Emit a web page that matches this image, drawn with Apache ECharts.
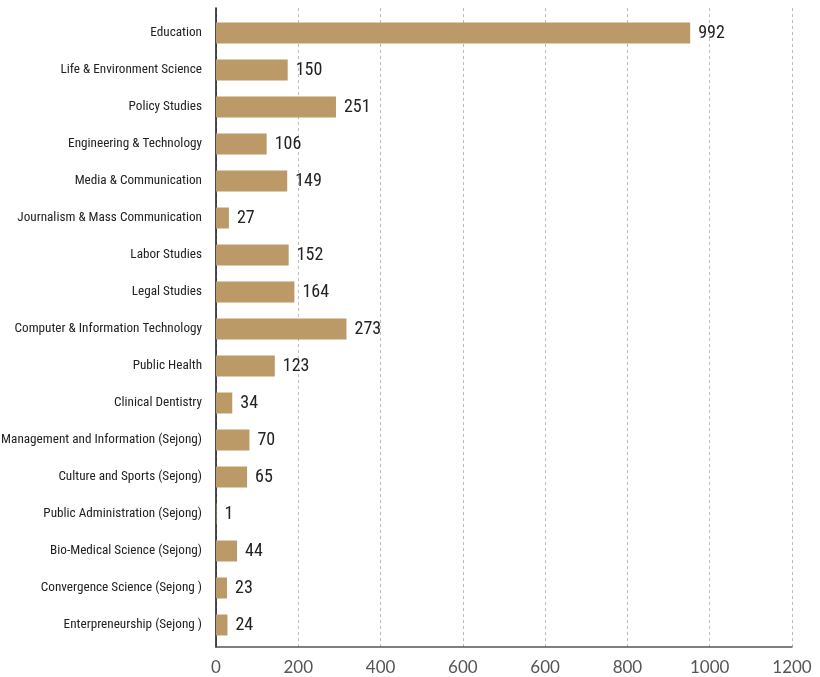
<!DOCTYPE html>
<html>
<head>
<meta charset="utf-8">
<script src="https://cdn.jsdelivr.net/npm/echarts@6/dist/echarts.min.js"></script>
<style>
html,body{margin:0;padding:0;background:#fff;}
#chart{width:820px;height:677px;}
</style>
</head>
<body>
<div id="chart"></div>
<script>
const categories = [
  "Education",
  "Life & Environment Science",
  "Policy Studies",
  "Engineering & Technology",
  "Media & Communication",
  "Journalism & Mass Communication",
  "Labor Studies",
  "Legal Studies",
  "Computer & Information Technology",
  "Public Health",
  "Clinical Dentistry",
  "Management and Information (Sejong)",
  "Culture and Sports (Sejong)",
  "Public Administration (Sejong)",
  "Bio-Medical Science (Sejong)",
  "Convergence Science (Sejong )",
  "Enterpreneurship (Sejong )"
];
const values = [992, 150, 251, 106, 149, 27, 152, 164, 273, 123, 34, 70, 65, 1, 44, 23, 24];
const tickLabels = ["0", "200", "400", "600", "600", "800", "1000", "1200"];

const chart = echarts.init(document.getElementById('chart'), null, {renderer: 'canvas'});
const narrow = "'Roboto Condensed', 'DejaVu Sans Condensed', sans-serif";
chart.setOption({
  animation: false,
  backgroundColor: '#ffffff',
  grid: [
    {left: 216, top: 8, width: 576, height: 639, containLabel: false, outerBoundsMode: 'none'},
    {left: 216, top: 14.5, width: 576, height: 629, containLabel: false, outerBoundsMode: 'none'}
  ],
  xAxis: [
    {
      gridIndex: 0, type: 'value', min: 0, max: 1400, interval: 200,
      axisLine: {show: true, lineStyle: {color: '#555', width: 1.5}},
      axisTick: {show: false},
      axisLabel: {
        margin: 12, color: '#555', fontSize: 17, fontFamily: "Lato, 'Open Sans', sans-serif",
        formatter: function (v) { return tickLabels[Math.round(v / 200)] || ''; }
      },
      splitLine: {show: true, lineStyle: {color: '#bbb', type: [3, 3], width: 1}}
    },
    {
      gridIndex: 1, type: 'value', min: 0, max: 1205, show: false,
      splitLine: {show: false}
    }
  ],
  yAxis: [
    {
      gridIndex: 0, type: 'value', min: 0, max: 1,
      axisLine: {show: true, onZero: false, lineStyle: {color: '#111', width: 1.5}},
      axisTick: {show: false}, axisLabel: {show: false}, splitLine: {show: false}
    },
    {
      gridIndex: 1, type: 'category', data: categories, inverse: true,
      axisLine: {show: false}, axisTick: {show: false},
      axisLabel: {margin: 14, color: '#222', fontSize: 13.2, fontFamily: narrow}
    }
  ],
  series: [{
    type: 'bar', xAxisIndex: 1, yAxisIndex: 1,
    data: values, barWidth: 21,
    itemStyle: {color: '#BB9A67'},
    label: {show: true, position: 'right', distance: 8, color: '#222', fontSize: 18, fontFamily: narrow}
  }]
});
</script>
</body>
</html>
